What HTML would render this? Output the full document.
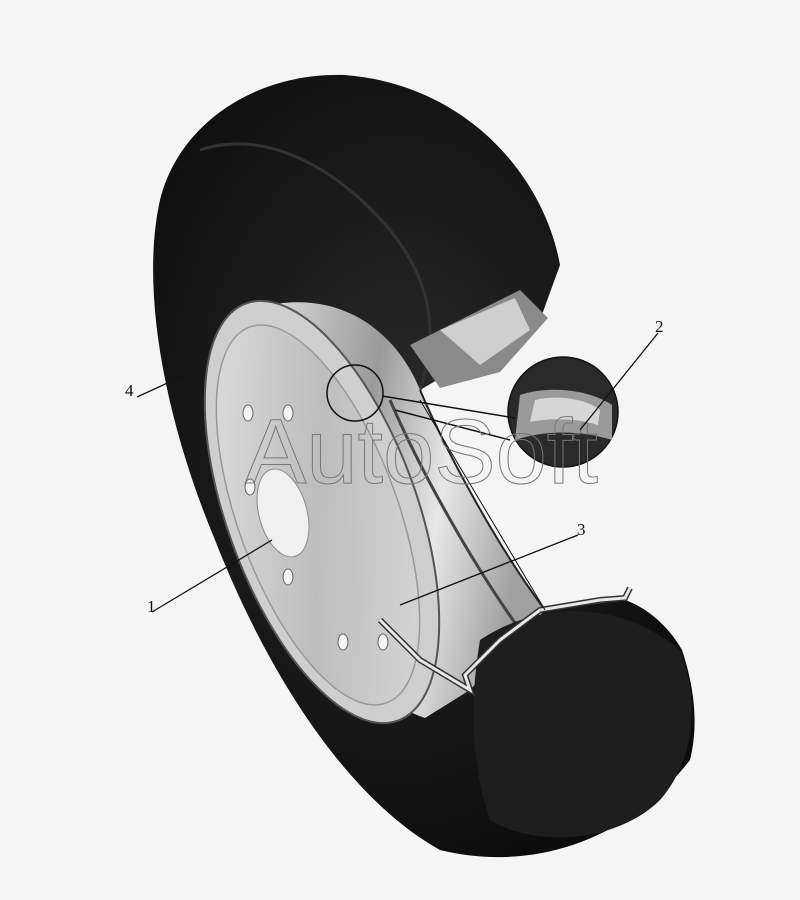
<!DOCTYPE html>
<html><head><meta charset="utf-8"><style>html,body{margin:0;padding:0;background:#f5f5f5}svg{display:block}</style></head>
<body>
<svg width="800" height="900" viewBox="0 0 800 900" xmlns="http://www.w3.org/2000/svg">
<defs>
<linearGradient id="rim" x1="0" y1="0" x2="1" y2="0.3">
<stop offset="0" stop-color="#d8d8d8"/><stop offset="0.4" stop-color="#9a9a9a"/><stop offset="0.7" stop-color="#e8e8e8"/><stop offset="1" stop-color="#a0a0a0"/></linearGradient>
<linearGradient id="disc" x1="0" y1="0" x2="1" y2="1">
<stop offset="0" stop-color="#e4e4e4"/><stop offset="0.5" stop-color="#bdbdbd"/><stop offset="1" stop-color="#dcdcdc"/></linearGradient>
<radialGradient id="tire" cx="0.45" cy="0.45" r="0.6">
<stop offset="0" stop-color="#2a2a2a"/><stop offset="1" stop-color="#0c0c0c"/></radialGradient>
</defs>
<rect width="800" height="900" fill="#f5f5f5"/>
<!-- tire -->
<path d="M560 265 C545 180 470 85 345 75 C260 72 180 120 160 200 C140 290 165 420 215 540 C270 680 350 800 440 850 C520 870 620 850 690 760 C700 720 692 680 682 650 C665 620 640 605 625 600 L545 610 C480 520 440 440 420 390 L540 320 Z" fill="url(#tire)"/>
<path d="M200 150 C260 130 330 160 390 230 C430 280 440 330 420 390" fill="none" stroke="#333" stroke-width="3"/>
<!-- top cut interior -->
<path d="M410 345 L520 290 L548 318 L500 372 L440 388 Z" fill="#8a8a8a"/>
<path d="M440 330 L515 298 L530 330 L480 365 Z" fill="#cfcfcf"/>
<!-- rim barrel -->
<path d="M270 305 C350 290 400 340 420 390 C450 460 500 550 545 610 L470 690 L425 718 C370 700 330 640 300 570 Z" fill="url(#rim)"/>
<path d="M420 390 C450 460 500 550 545 610" fill="none" stroke="#222" stroke-width="2"/>
<path d="M390 400 C420 470 470 560 520 630" fill="none" stroke="#444" stroke-width="3"/>
<!-- disc -->
<ellipse cx="322" cy="512" rx="95" ry="222" transform="rotate(-20 322 512)" fill="#cfcfcf" stroke="#555" stroke-width="2"/>
<ellipse cx="318" cy="515" rx="80" ry="200" transform="rotate(-20 318 515)" fill="url(#disc)" stroke="#999" stroke-width="1.5"/>
<ellipse cx="283" cy="513" rx="24" ry="45" transform="rotate(-15 283 513)" fill="#f0f0f0" stroke="#888"/>
<g fill="#f4f4f4" stroke="#666">
<ellipse cx="248" cy="413" rx="5" ry="8"/><ellipse cx="288" cy="413" rx="5" ry="8"/>
<ellipse cx="250" cy="487" rx="5" ry="8"/><ellipse cx="288" cy="577" rx="5" ry="8"/>
<ellipse cx="343" cy="642" rx="5" ry="8"/><ellipse cx="383" cy="642" rx="5" ry="8"/>
</g>
<!-- bottom cross-section -->
<path d="M480 640 C540 600 620 600 680 650 C700 700 695 760 660 800 C620 840 540 850 490 820 C470 760 470 700 480 640 Z" fill="#1e1e1e"/>
<path d="M380 620 L420 660 L470 690 L465 675 L500 640 L540 610 L600 600 L625 598 L630 588" fill="none" stroke="#333" stroke-width="6"/>
<path d="M380 620 L420 660 L470 690 L465 675 L500 640 L540 610 L600 600 L625 598 L630 588" fill="none" stroke="#e8e8e8" stroke-width="3"/>
<!-- detail circles -->
<circle cx="355" cy="393" r="28" fill="none" stroke="#111" stroke-width="1.5"/>
<circle cx="563" cy="412" r="55" fill="#2a2a2a" stroke="#111" stroke-width="1.5"/>
<path d="M520 395 C550 385 590 390 612 405 L612 440 C580 430 545 430 515 440 Z" fill="#9a9a9a"/>
<path d="M535 400 C555 395 585 398 600 410 L598 425 C575 418 550 418 530 422 Z" fill="#d6d6d6"/>
<line x1="382" y1="396" x2="515" y2="418" stroke="#111" stroke-width="1.5"/>
<line x1="395" y1="410" x2="510" y2="440" stroke="#111" stroke-width="1.5"/>
<line x1="420" y1="400" x2="545" y2="610" stroke="#111" stroke-width="1"/>
<!-- watermark -->
<text x="245" y="483" font-family="Liberation Sans, sans-serif" font-size="92" fill="none" stroke="#777" stroke-width="1">AutoSoft</text>
<!-- leaders -->
<g stroke="#111" stroke-width="1.3" fill="none">
<line x1="137" y1="397" x2="185" y2="375"/>
<line x1="152" y1="612" x2="272" y2="540"/>
<line x1="658" y1="333" x2="580" y2="430"/>
<line x1="578" y1="535" x2="400" y2="605"/>
</g>
<g font-family="Liberation Serif, serif" font-size="17" fill="#111">
<text x="125" y="396">4</text><text x="147" y="612">1</text>
<text x="655" y="332">2</text><text x="577" y="535">3</text>
</g>
</svg>
</body></html>
